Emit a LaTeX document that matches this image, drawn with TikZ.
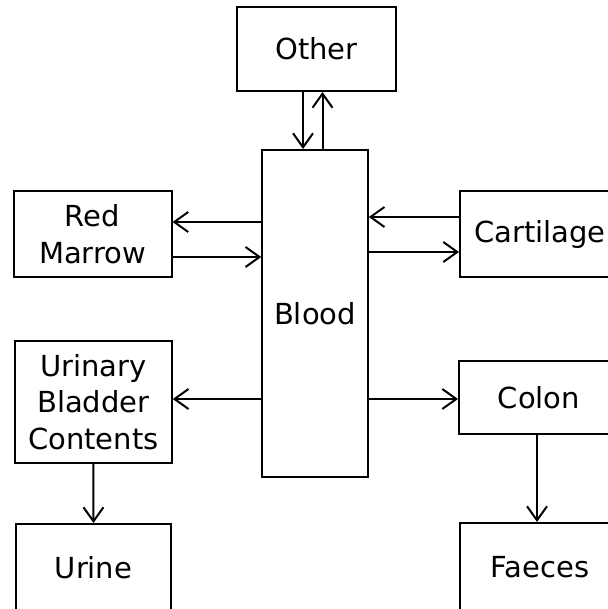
\documentclass[tikz,border=0pt]{standalone}
\usepackage{fontspec}
\setmainfont{DejaVu Sans}
\usetikzlibrary{arrows.meta}
\begin{document}
\begin{tikzpicture}[x=1pt,y=-1pt,
  box/.style={draw, line width=2pt, inner sep=0pt, align=center,
    font=\fontsize{29}{36.5}\selectfont},
  arr/.style={line width=2pt, -{Straight Barb[length=14pt,width=20pt,line width=2pt]}}]
\useasboundingbox (0,0) rectangle (607,609);
\node[box, minimum width=159pt, minimum height=84pt] (other) at (316.5,49) {Other};
\node[box, minimum width=105.5pt, minimum height=327pt] (blood) at (315,313.5) {Blood};
\node[box, minimum width=158pt, minimum height=86pt] (rm) at (92.5,234) {Red\\Marrow};
\node[box, minimum width=160pt, minimum height=86pt] (cart) at (540,234) {Cartilage};
\node[box, minimum width=157pt, minimum height=122pt] (ubc) at (93.3,402) {Urinary\\Bladder\\Contents};
\node[box, minimum width=160pt, minimum height=73pt] (colon) at (539,397.5) {Colon};
\node[box, minimum width=155pt, minimum height=88pt] (urine) at (93.5,568) {Urine};
\node[box, minimum width=160pt, minimum height=89pt] (faeces) at (540,567.5) {Faeces};
\draw[arr] (other.south -| 303,0) -- (blood.north -| 303,0);
\draw[arr] (blood.north -| 322.5,0) -- (other.south -| 322.5,0);
\draw[arr] (blood.west |- 0,222) -- (rm.east |- 0,222);
\draw[arr] (rm.east |- 0,257) -- (blood.west |- 0,257);
\draw[arr] (cart.west |- 0,217) -- (blood.east |- 0,217);
\draw[arr] (blood.east |- 0,252) -- (cart.west |- 0,252);
\draw[arr] (blood.west |- 0,399) -- (ubc.east |- 0,399);
\draw[arr] (blood.east |- 0,399) -- (colon.west |- 0,399);
\draw[arr] (ubc.south) -- (urine.north);
\draw[arr] (colon.south -| 537,0) -- (faeces.north -| 537,0);
\end{tikzpicture}
\end{document}
